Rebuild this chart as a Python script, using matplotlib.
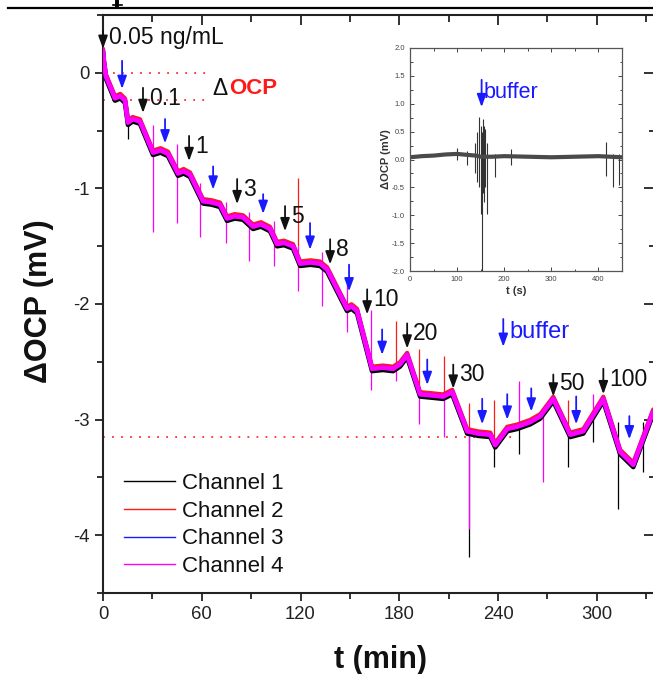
import matplotlib
matplotlib.use("Agg")
import matplotlib.pyplot as plt
from matplotlib.lines import Line2D
from matplotlib.ticker import MultipleLocator

plt.rcParams['font.family'] = ['Liberation Sans', 'DejaVu Sans']
plt.rcParams['axes.unicode_minus'] = False

# ---------------- data ----------------
# main trace waypoints: time (min) and ΔOCP (mV)
trace_t = [0.0, 0.6, 1.8, 7.3, 10.5, 13.4, 15.2, 18.0, 22.5, 30.4, 35.0, 39.5, 45.6, 49.0,
           52.9, 60.8, 66.0, 71.1, 75.4, 80.0, 85.1, 91.2, 96.0, 101.5, 105.8, 110.0,
           115.5, 119.8, 126.0, 131.9, 136.2, 148.3, 151.0, 154.4, 163.5, 170.0, 176.3,
           180.5, 184.8, 192.7, 200.0, 206.7, 212.2, 221.3, 228.0, 235.3, 238.3,
           245.6, 251.7, 259.6, 265.7, 273.6, 283.9, 291.8, 304.0, 314.3, 322.2, 334.3]
trace_v = [0.19, 0.09, -0.03, -0.22, -0.20, -0.24, -0.43, -0.40, -0.42, -0.69, -0.67,
           -0.70, -0.87, -0.85, -0.88, -1.11, -1.12, -1.14, -1.26, -1.24, -1.25, -1.33,
           -1.31, -1.35, -1.48, -1.47, -1.50, -1.65, -1.64, -1.65, -1.70, -2.04, -2.02,
           -2.06, -2.56, -2.55, -2.56, -2.52, -2.44, -2.78, -2.79, -2.80, -2.76, -3.10,
           -3.12, -3.13, -3.22, -3.08, -3.06, -3.02, -2.97, -2.82, -3.13, -3.10, -2.82,
           -3.28, -3.39, -2.93]

channel_names = ['Channel 1', 'Channel 2', 'Channel 3', 'Channel 4']
channel_colors = ['#000000', '#ff1a1a', '#1a1aff', '#ff00ff']
channel_offsets = [-0.02, 0.018, 0.0, 0.0]   # mV, relative to trace

# injection spikes: time, low, high, channel index
spike_t = [15.2, 30.4, 45.0, 59.0, 74.8, 88.8, 104.0, 118.5, 118.5, 133.1, 148.3,
           162.9, 178.1, 178.1, 192.1, 192.1, 207.3, 207.3, 222.5, 222.5, 222.5,
           237.7, 237.7, 252.9, 252.9, 267.5, 282.7, 282.7, 297.9, 297.9, 313.1, 328.3]
spike_lo = [-0.57, -1.38, -1.30, -1.42, -1.47, -1.63, -1.67, -1.50, -1.89, -2.02, -2.24,
            -2.74, -2.56, -2.67, -2.78, -3.04, -2.80, -3.15, -4.19, -3.95, -3.10,
            -3.15, -3.41, -3.08, -3.30, -3.54, -3.10, -3.41, -2.92, -3.19, -3.77, -3.45]
spike_hi = [-0.33, -0.45, -0.62, -0.95, -1.12, -1.20, -1.28, -0.91, -1.50, -1.55, -1.78,
            -2.05, -2.15, -2.56, -2.39, -2.78, -2.45, -2.80, -3.10, -3.10, -2.86,
            -2.83, -3.15, -2.67, -3.08, -2.90, -2.83, -3.10, -2.78, -2.92, -3.02, -3.02]
spike_ch = [0, 3, 3, 3, 3, 3, 3, 1, 3, 3, 3,
            3, 1, 3, 1, 3, 1, 3, 0, 3, 1,
            1, 0, 3, 0, 3, 1, 0, 3, 0, 0, 0]

# concentration (black) arrows
conc_labels = ['0.05 ng/mL', '0.1', '1', '3', '5', '8', '10', '20', '30', '50', '100']
conc_t = [0.0, 24.3, 52.3, 81.5, 110.6, 138.0, 160.5, 184.8, 212.8, 273.6, 304.0]
conc_tail = [0.364, -0.13, -0.546, -0.919, -1.153, -1.44, -1.873, -2.168, -2.524, -2.61, -2.56]
conc_tip = [0.208, -0.347, -0.763, -1.136, -1.370, -1.657, -2.09, -2.385, -2.732, -2.80, -2.78]

# buffer (blue) arrows
buffer_t = [11.6, 37.7, 66.9, 97.3, 125.8, 149.5, 169.6, 197.0, 230.4, 245.6, 260.2, 287.5, 319.8]
buffer_tail = [0.104, -0.40, -0.81, -1.05, -1.30, -1.66, -2.22, -2.48, -2.82, -2.78, -2.73, -2.80, -2.97]
buffer_tip = [-0.139, -0.61, -1.01, -1.22, -1.53, -1.89, -2.44, -2.70, -3.04, -3.00, -2.93, -3.04, -3.17]

# reference dotted levels
ref_levels = [0.0, -0.234, -3.15]
ref_t0 = [6.0, 0.0, 0.0]
ref_t1 = [63.0, 63.0, 250.0]

# inset: buffer injection (t in s)
inset_t = [0, 25, 50, 75, 100, 125, 140, 150, 175, 200, 250, 300, 350, 400, 425, 450]
inset_v = [0.04, 0.06, 0.07, 0.09, 0.10, 0.08, 0.07, 0.05, 0.05, 0.06, 0.05, 0.04, 0.05, 0.06, 0.05, 0.04]
inset_spike_t = [100, 120, 138, 143, 147, 150, 152, 155, 157, 160, 164, 180, 215, 415, 431, 443]
inset_spike_lo = [0.0, -0.1, -0.25, -0.4, -0.5, -0.97, -2.0, -0.6, -0.76, -0.5, -0.97, -0.32, -0.1, -0.3, -0.5, -0.45]
inset_spike_hi = [0.2, 0.15, 0.3, 0.5, 0.77, 0.6, 0.5, 0.73, 0.6, 0.55, 0.3, 0.1, 0.18, 0.32, 0.1, 0.1]

# ---------------- figure ----------------
fig = plt.figure(figsize=(6.53, 6.74), dpi=100)
W, H = 653.0, 674.0
ax = fig.add_axes([103 / W, 1 - 593 / H, (656 - 103) / W, (593 - 15) / H])

BLUE = '#1a1aff'
DARK = '#111111'

# spikes (behind traces)
for t, lo, hi, c in zip(spike_t, spike_lo, spike_hi, spike_ch):
    ax.vlines(t, lo, hi, color=channel_colors[c], lw=0.9, zorder=2)

# channel traces
widths = [3.4, 3.0, 3.2, 3.4]
for name, col, off, lw in zip(channel_names, channel_colors, channel_offsets, widths):
    ax.plot(trace_t, [v + off for v in trace_v], color=col, lw=lw, zorder=3,
            solid_joinstyle='round', solid_capstyle='round')

# dotted reference lines
for lev, a, b in zip(ref_levels, ref_t0, ref_t1):
    ax.plot([a, b], [lev, lev], color='#ff3030', lw=1.3, ls=(0, (1, 4)), zorder=1.5)

# arrows
def arrow(axis, t, tail, tip, color):
    axis.annotate('', xy=(t, tip), xytext=(t, tail),
                  arrowprops=dict(arrowstyle='-|>,head_length=0.55,head_width=0.2',
                                  color=color, lw=1.3, shrinkA=0, shrinkB=0,
                                  mutation_scale=14), zorder=5)

for lab, t, a, b in zip(conc_labels, conc_t, conc_tail, conc_tip):
    arrow(ax, t, a, b, DARK)
    ax.text(t + 3.6, (a + b) / 2 + 0.02, lab, fontsize=16.5, color=DARK,
            ha='left', va='center', zorder=6)

for t, a, b in zip(buffer_t, buffer_tail, buffer_tip):
    arrow(ax, t, a, b, BLUE)

# buffer legend arrow
arrow(ax, 243.2, -2.13, -2.37, BLUE)
ax.text(247.0, -2.245, 'buffer', fontsize=17, color=BLUE, ha='left', va='center')

# ΔOCP annotation
ax.text(66.3, -0.14, 'Δ', fontsize=16.5, color=DARK, ha='left', va='center')
ax.text(76.5, -0.14, 'OCP', fontsize=16, color='#ff1a1a', fontweight='bold',
        ha='left', va='center')

# axes styling
ax.set_xlim(0, 336)
ax.set_ylim(-4.5, 0.5)
ax.xaxis.set_major_locator(MultipleLocator(60))
ax.xaxis.set_minor_locator(MultipleLocator(30))
ax.yaxis.set_major_locator(MultipleLocator(1))
ax.yaxis.set_minor_locator(MultipleLocator(0.5))
ax.tick_params(which='both', direction='out', labelsize=13.3, colors='#222222',
               width=1.3, top=False, right=False)
ax.tick_params(which='major', length=6)
ax.tick_params(which='minor', length=4)
for s in ax.spines.values():
    s.set_linewidth(1.5)
    s.set_color('#222222')
# mirrored inward ticks on top / right
ax_top = ax.secondary_xaxis('top')
ax_top.xaxis.set_major_locator(MultipleLocator(60))
ax_top.xaxis.set_minor_locator(MultipleLocator(30))
ax_top.tick_params(which='both', direction='in', labeltop=False, width=1.3, colors='#222222')
ax_top.tick_params(which='major', length=7)
ax_top.tick_params(which='minor', length=5)
ax_top.spines['top'].set_visible(False)
ax_rt = ax.secondary_yaxis('right')
ax_rt.yaxis.set_major_locator(MultipleLocator(1))
ax_rt.yaxis.set_minor_locator(MultipleLocator(0.5))
ax_rt.tick_params(which='both', direction='in', labelright=False, width=1.3, colors='#222222')
ax_rt.tick_params(which='major', length=9)
ax_rt.tick_params(which='minor', length=5)
ax_rt.spines['right'].set_visible(False)

ax.set_xlabel('t (min)', fontsize=22, fontweight='bold', color=DARK)
ax.set_ylabel('ΔOCP (mV)', fontsize=22, fontweight='bold', color=DARK)
ax.xaxis.set_label_coords(0.501, -0.09)
ax.yaxis.set_label_coords(-0.088, 0.505)

handles = [Line2D([], [], color=c, lw=1.0) for c in channel_colors]
leg = ax.legend(handles, channel_names, loc='lower left', bbox_to_anchor=(0.03, 0.02),
                frameon=False, fontsize=16, handlelength=2.3, handletextpad=0.3,
                labelspacing=0.3, borderpad=0.2, borderaxespad=0)
for txt in leg.get_texts():
    txt.set_color(DARK)

# ---------------- inset ----------------
ins = fig.add_axes([410 / W, 1 - 271 / H, 212 / W, 223 / H])
ins.vlines(inset_spike_t, inset_spike_lo, inset_spike_hi, color='#333333', lw=0.8)
ins.plot(inset_t, inset_v, color='#4a4a4a', lw=3.0)
ins.set_xlim(0, 450)
ins.set_ylim(-2, 2)
ins.xaxis.set_major_locator(MultipleLocator(100))
ins.xaxis.set_minor_locator(MultipleLocator(50))
ins.yaxis.set_major_locator(MultipleLocator(0.5))
ins.yaxis.set_minor_locator(MultipleLocator(0.25))
ins.tick_params(which='both', direction='in', top=True, right=True, labelsize=5.5,
                colors='#444444', width=0.7)
ins.tick_params(which='major', length=3)
ins.tick_params(which='minor', length=1.8)
for s in ins.spines.values():
    s.set_linewidth(0.9)
    s.set_color('#555555')
ins.set_xlabel('t (s)', fontsize=8, fontweight='bold', color='#333333', labelpad=2)
ins.set_ylabel('ΔOCP (mV)', fontsize=8, fontweight='bold', color='#333333', labelpad=1)
arrow(ins, 152, 1.43, 0.94, BLUE)
ins.text(157, 1.2, 'buffer', fontsize=15.5, color=BLUE, ha='left', va='center')

# page crop remnants above the chart (rule line and descender of a cut-off glyph)
fig.add_artist(Line2D([8 / W, 1.0], [1 - 8 / H, 1 - 8 / H], color='black', lw=1.6,
                      transform=fig.transFigure))
fig.add_artist(Line2D([117 / W, 117 / W], [1.0, 1 - 5 / H], color='black', lw=2.8,
                      transform=fig.transFigure))
fig.add_artist(Line2D([113 / W, 122 / W], [1 - 4.5 / H, 1 - 4.5 / H], color='black', lw=1.2,
                      transform=fig.transFigure))

fig.savefig('out.png', dpi=100)
